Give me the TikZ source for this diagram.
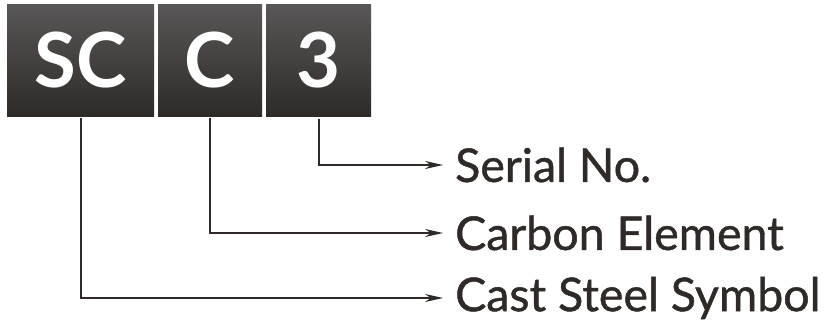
\documentclass[tikz,border=0pt]{standalone}
\usepackage{fontspec}
\setmainfont{Lato}
\newfontfamily\labelfont{Lato}[FakeBold=1.0]
\usepackage{xcolor}
\usetikzlibrary{arrows.meta}
\definecolor{boxtop}{HTML}{595757}
\definecolor{boxbot}{HTML}{2E2A27}
\definecolor{ink}{HTML}{2F2A28}
\tikzset{
  codebox/.style={top color=boxtop,bottom color=boxbot,draw=none,inner sep=0pt,
    text=white,font=\fontsize{76}{86}\selectfont\bfseries},
  label/.style={anchor=west,inner sep=0pt,text=ink,font=\labelfont\fontsize{46.5}{56}\selectfont},
  lead/.style={draw=ink,line width=2pt,-{Stealth[length=18pt,width=8pt]}}
}
\begin{document}
\begin{tikzpicture}[x=1pt,y=-1pt]
\useasboundingbox (0,0) rectangle (828,330);
% code boxes
  \node[codebox,minimum width=147pt,minimum height=112pt] (sc) at (80.5,60) {SC};
  \node[codebox,minimum width=104pt,minimum height=112pt] (c) at (210,60) {C};
  \node[codebox,minimum width=105pt,minimum height=112pt] (n) at (318.5,60) {3};
% meanings
  \node[label] (serial) at (455,165) {Serial No.};
  \node[label] (carbon) at (455,233) {Carbon Element};
  \node[label] (steel) at (455,298) {Cast Steel Symbol};
  \draw[lead] ([yshift=-3pt]n.south) |- ([xshift=-12pt]serial.west);
  \draw[lead] ([yshift=-2pt]c.south) |- ([xshift=-12pt]carbon.west);
  \draw[lead] ([yshift=-2pt]sc.south) |- ([xshift=-12pt]steel.west);
\end{tikzpicture}
\end{document}
